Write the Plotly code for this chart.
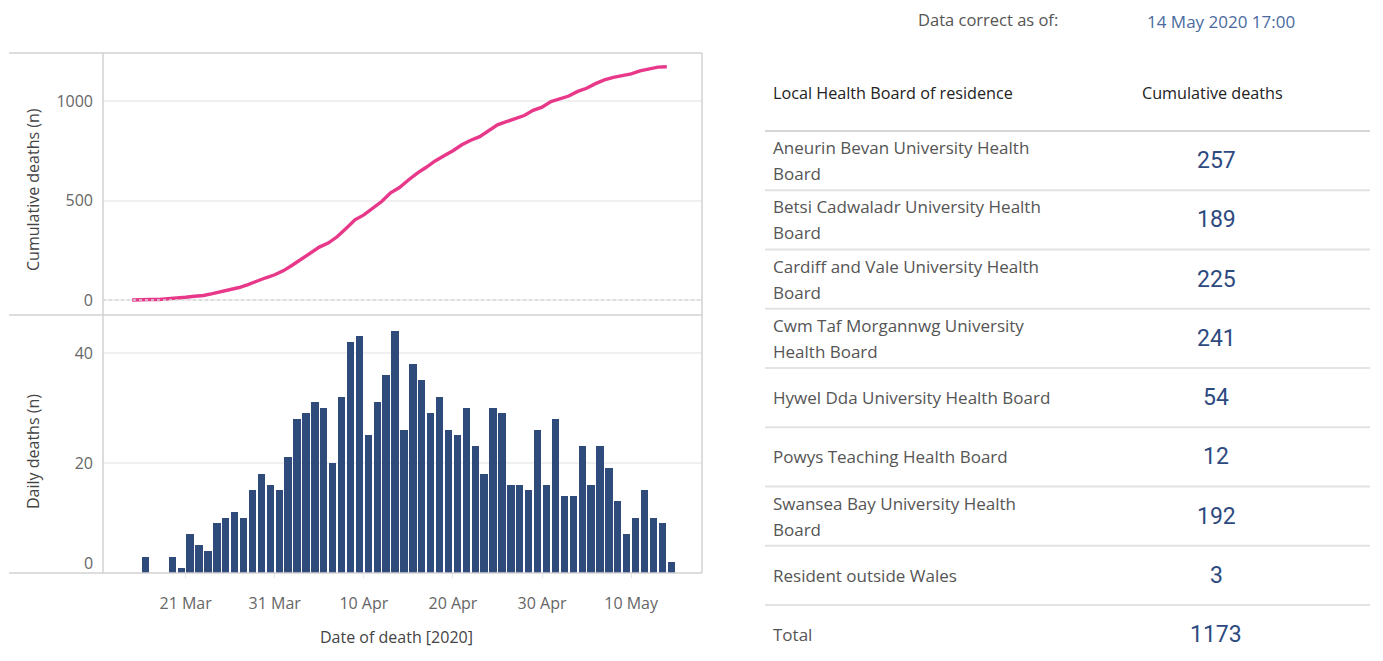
import plotly.graph_objects as go
import pandas as pd

# ---------------- data ----------------
dates = [d.strftime("%Y-%m-%d") for d in pd.date_range("2020-03-15", "2020-05-14", freq="D")]
daily_deaths = [0, 3, 0, 0, 3, 1, 7, 5, 4, 9, 10, 11, 10, 15, 18, 16, 15,
                21, 28, 29, 31, 30, 20, 32, 42, 43, 25, 31, 36, 44, 26, 38, 35, 29, 32, 26,
                25, 30, 23, 18, 30, 29, 16, 16, 15, 26, 16,
                28, 14, 14, 23, 16, 23, 19, 13, 7, 10, 15, 10, 9, 2]
cumulative_deaths = [0, 3, 3, 3, 6, 7, 14, 19, 23, 32, 42, 53, 63, 78, 96, 112, 127,
                     148, 176, 205, 236, 266, 286, 318, 360, 403, 428, 459, 495, 539, 565,
                     603, 638, 667, 699, 725, 750, 780, 803, 821, 851, 880, 896, 912, 927,
                     953, 969, 997, 1011, 1025, 1048, 1064, 1087, 1106, 1119, 1126, 1136,
                     1151, 1161, 1170, 1172]
x_tick_vals = ["2020-03-21", "2020-03-31", "2020-04-10", "2020-04-20", "2020-04-30", "2020-05-10"]
x_tick_text = ["21 Mar", "31 Mar", "10 Apr", "20 Apr", "30 Apr", "10 May"]
cum_ticks = [0, 500, 1000]
daily_ticks = [0, 20, 40]

boards = ["Aneurin Bevan University Health<br>Board",
          "Betsi Cadwaladr University Health<br>Board",
          "Cardiff and Vale University Health<br>Board",
          "Cwm Taf Morgannwg University<br>Health Board",
          "Hywel Dda University Health Board",
          "Powys Teaching Health Board",
          "Swansea Bay University Health<br>Board",
          "Resident outside Wales"]
board_deaths = [257, 189, 225, 241, 54, 12, 192, 3]
total_label = "Total"
total_deaths = 1173
updated_label = "Data correct as of:"
updated_value = "14 May 2020 17:00"
col_headers = ["Local Health Board of residence", "Cumulative deaths"]

# ---------------- layout helpers ----------------
# The figure fills the window inside the page's default 8px body margin,
# so placement is expressed as fractions of that inner box.
REF_W, REF_H, PAGE_MARGIN = 1383, 661, 8
FONT = "Open Sans"
NUMFONT = "Roboto"
def px(x):
    return (x - PAGE_MARGIN) / (REF_W - 2 * PAGE_MARGIN)
def py(y):
    return 1 - (y - PAGE_MARGIN) / (REF_H - 2 * PAGE_MARGIN)

PINK = "#e8388a"
BLUE = "#2f4b7c"
NUM_BLUE = "#2d4a7f"
GRID = "#f0f0f0"
BORDER = "#d2d2d2"

x_left, x_right = 103, 702
top_y0, mid_y, bot_y = 53, 315, 573
x_range = ["2020-03-11 17:20", "2020-05-17 22:50"]

fig = go.Figure()
fig.add_trace(go.Scatter(
    x=dates, y=cumulative_deaths, mode="lines",
    line=dict(color=PINK, width=3.4), xaxis="x", yaxis="y",
    hoverinfo="x+y", showlegend=False))
fig.add_trace(go.Bar(
    x=dates, y=daily_deaths, xperiod=86400000, xperiodalignment="middle",
    width=0.82 * 86400000, marker=dict(color=BLUE, line=dict(width=0)),
    xaxis="x2", yaxis="y2", showlegend=False))

tickfont = dict(family=FONT, size=16, color="#666666")
fig.update_layout(
    autosize=True, margin=dict(l=0, r=0, t=0, b=0, pad=0),
    paper_bgcolor="white", plot_bgcolor="white",
    font=dict(family=FONT, size=15, color="#444444"),
    bargap=0,
    xaxis=dict(domain=[px(x_left), px(x_right)], range=x_range, type="date",
               showticklabels=False, showgrid=False, zeroline=False, showline=False,
               anchor="y", matches="x2"),
    yaxis=dict(domain=[py(mid_y), py(top_y0)], range=[-75, 1241], tickvals=cum_ticks,
               showgrid=True, gridcolor=GRID, gridwidth=1.5, zeroline=False, showline=False,
               tickfont=tickfont, ticks="", ticklabelstandoff=9, anchor="x"),
    xaxis2=dict(domain=[px(x_left), px(x_right)], range=x_range, type="date",
                tickvals=x_tick_vals, ticktext=x_tick_text, tickfont=tickfont,
                ticks="outside", ticklen=4, tickcolor="#e4e4e4", ticklabelstandoff=12,
                showgrid=False, zeroline=False, showline=False, anchor="y2"),
    # the baseline label ("0") is drawn slightly raised, as in the original, below
    yaxis2=dict(domain=[py(bot_y), py(mid_y)], range=[0, 46.9], tickvals=daily_ticks[1:],
                showgrid=True, gridcolor=GRID, gridwidth=1.5, zeroline=False, showline=False,
                tickfont=tickfont, ticks="", ticklabelstandoff=9, anchor="x2"),
)

shapes = []
def hline(y, x0, x1, color=BORDER, width=1.5, dash="solid"):
    shapes.append(dict(type="line", xref="paper", yref="paper", x0=px(x0), x1=px(x1),
                       y0=py(y), y1=py(y), line=dict(color=color, width=width, dash=dash)))
def vline(x, y0, y1, color=BORDER, width=1.5):
    shapes.append(dict(type="line", xref="paper", yref="paper", x0=px(x), x1=px(x),
                       y0=py(y0), y1=py(y1), line=dict(color=color, width=width)))

# chart borders
hline(top_y0, 9, x_right)
hline(mid_y, 9, x_right)
hline(bot_y, 9, x_right)
vline(x_left, top_y0, bot_y)
vline(x_right, top_y0, bot_y)
# dotted zero line on top chart
shapes.append(dict(type="line", xref="paper", yref="y", x0=px(x_left), x1=px(x_right),
                   y0=0, y1=0, line=dict(color="#d6d6d6", width=1.5, dash="dot")))

annotations = []
def text(x, y, s, size=15, color="#444444", xanchor="left", angle=0, family=FONT):
    annotations.append(dict(xref="paper", yref="paper", x=px(x), y=py(y), text=s,
                            showarrow=False, xanchor=xanchor, yanchor="middle",
                            textangle=angle, font=dict(family=family, size=size, color=color)))

# raised baseline label of the daily chart
text(95, 563, str(daily_ticks[0]), size=16, color="#666666", xanchor="right")

# axis titles
text(33, 190, "Cumulative deaths (n)", size=16, color="#444444", xanchor="center", angle=-90)
text(33, 452, "Daily deaths (n)", size=16, color="#444444", xanchor="center", angle=-90)
text(396, 637, "Date of death [2020]", size=16, color="#444444", xanchor="center")

# table
tab_x0, tab_x1 = 765, 1370
text_x, num_x = 771, 1216
text(916, 20, updated_label, size=16.5, color="#555555")
text(1145, 21, updated_value, size=17, color="#4a6a9e")
text(text_x, 93, col_headers[0], size=16.2, color="#222222")
text(1212, 93, col_headers[1], size=16.2, color="#222222", xanchor="center")

row_top, row_h = 131, 59.25
hline(row_top, tab_x0, tab_x1, color="#c9c9c9", width=1.5)
for i, (name, val) in enumerate(zip(boards, board_deaths)):
    cy = row_top + row_h * (i + 0.5)
    lines = name.split("<br>")
    if len(lines) == 1:
        text(text_x, cy, lines[0], size=17, color="#555555")
    else:
        text(text_x, cy - 13, lines[0], size=17, color="#555555")
        text(text_x, cy + 13, lines[1], size=17, color="#555555")
    text(num_x, cy, str(val), size=23, color=NUM_BLUE, xanchor="center", family=NUMFONT)
    hline(row_top + row_h * (i + 1), tab_x0, tab_x1, color="#e3e3e3", width=2)
cy = row_top + row_h * (len(boards) + 0.5)
text(text_x, cy, total_label, size=17, color="#555555")
text(num_x, cy, str(total_deaths), size=23, color=NUM_BLUE, xanchor="center", family=NUMFONT)

fig.update_layout(shapes=shapes, annotations=annotations)
fig.write_html(
    "out.html",
    config={"displayModeBar": False},
    default_width="calc(100vw - 16px)",
    default_height="calc(100vh - 16px)",
)
